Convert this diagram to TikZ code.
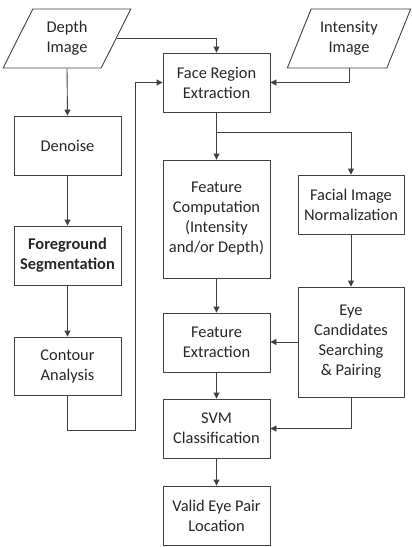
\documentclass[tikz,border=0pt]{standalone}
\usepackage{fontspec}
\setmainfont{Carlito}
\usetikzlibrary{shapes.geometric,arrows.meta}
\begin{document}
\begin{tikzpicture}[x=1pt,y=-1pt,
  txt/.style={font=\fontsize{16.4}{20}\selectfont, text=black!85, align=center},
  box/.style={txt, draw=black!75, line width=0.9pt, rectangle, minimum width=107pt, minimum height=59pt, inner sep=2pt},
  datain/.style={txt, draw=black!75, line width=0.9pt, trapezium, trapezium left angle=63, trapezium right angle=117, trapezium stretches=true, minimum height=59pt, inner sep=2pt},
  strong/.style={font=\fontsize{16.4}{20}\selectfont\bfseries},
  flow/.style={draw=black!75, line width=0.9pt, -{Triangle[length=6pt,width=6pt]}},
  link/.style={draw=black!75, line width=0.9pt}]
\useasboundingbox (0,0) rectangle (412,547);

% inputs
\node[datain, minimum width=128pt] (depth) at (67,38.5) {Depth\\Image};
\node[datain, minimum width=124pt] (inten) at (349,38.5) {Intensity\\Image};

% depth pre-processing column
\node[box] (denoise) at (67.5,145.5) {Denoise};
\node[box, strong] (fg) at (67.5,255.5) {Foreground\\Segmentation};
\node[box, minimum height=58pt] (contour) at (67.5,366) {Contour\\Analysis};

% main pipeline
\node[box] (face) at (216.5,82.5) {Face Region\\Extraction};
\node[box, minimum height=118pt] (fcomp) at (216.5,219) {Feature\\Computation\\(Intensity\\and/or Depth)};
\node[box] (fext) at (216.5,342.5) {Feature\\Extraction};
\node[box] (svm) at (216.5,428.5) {SVM\\Classification};
\node[box] (valid) at (216.5,515.5) {Valid Eye Pair\\Location};

% eye candidate branch
\node[box, minimum width=106pt] (norm) at (351,204.5) {Facial Image\\Normalization};
\node[box, minimum width=106pt, minimum height=110pt] (eye) at (351,342) {Eye\\Candidates\\Searching\\\& Pairing};

\coordinate (split) at (216.5,132);
\coordinate (loop) at (135,430);

% connectors
\draw[flow] (depth.south) -- (denoise.north);
\draw[flow] (denoise) -- (fg);
\draw[flow] (fg) -- (contour);
\draw[flow] (contour.south) |- (loop) |- (face.west);
\draw[flow] (depth.east) -| (face.north);
\draw[flow] (inten.south) |- (face.east);
\draw[flow] (face.south) -- (fcomp.north);
\draw[flow] (split) -| (norm.north);
\draw[flow] (fcomp) -- (fext);
\draw[flow] (norm) -- (eye);
\draw[flow] (eye.west) -- (eye.west -| fext.east);
\draw[flow] (fext) -- (svm);
\draw[flow] (eye.south) |- (svm.east);
\draw[flow] (svm) -- (valid);
\end{tikzpicture}
\end{document}
